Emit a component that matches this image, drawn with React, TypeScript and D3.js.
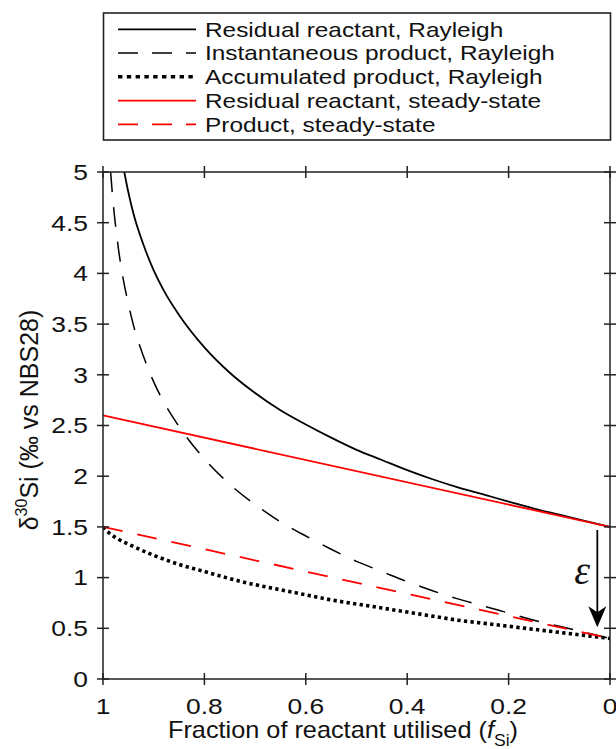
import React from "react";
import * as d3 from "d3";

// ---------- data ----------
const xTicks = [1, 0.8, 0.6, 0.4, 0.2, 0];
const xTickLabels = ["1", "0.8", "0.6", "0.4", "0.2", "0"];
const yTicks = [0, 0.5, 1, 1.5, 2, 2.5, 3, 3.5, 4, 4.5, 5];
const yTickLabels = ["0", "0.5", "1", "1.5", "2", "2.5", "3", "3.5", "4", "4.5", "5"];

// Residual reactant, Rayleigh
const fResidualRayleigh = [0.958, 0.95, 0.94, 0.92, 0.9, 0.88, 0.85, 0.8, 0.75, 0.7, 0.65, 0.6, 0.55, 0.5, 0.45, 0.4, 0.35, 0.3, 0.25, 0.2, 0.15, 0.1, 0.05, 0];
const dResidualRayleigh = [5.0, 4.8, 4.59, 4.28, 4.03, 3.83, 3.59, 3.27, 3.02, 2.82, 2.65, 2.51, 2.38, 2.26, 2.16, 2.06, 1.97, 1.89, 1.82, 1.75, 1.68, 1.62, 1.56, 1.5];

// Instantaneous product, Rayleigh
const fInstProduct = [0.985, 0.98, 0.97, 0.96, 0.95, 0.94, 0.92, 0.9, 0.88, 0.85, 0.8, 0.75, 0.7, 0.65, 0.6, 0.55, 0.5, 0.45, 0.4, 0.35, 0.3, 0.25, 0.2, 0.15, 0.1, 0.05, 0];
const dInstProduct = [5.0, 4.7, 4.26, 3.94, 3.7, 3.49, 3.18, 2.93, 2.73, 2.49, 2.17, 1.92, 1.72, 1.55, 1.41, 1.28, 1.16, 1.06, 0.96, 0.87, 0.79, 0.72, 0.65, 0.58, 0.52, 0.46, 0.4];

// Accumulated product, Rayleigh
const fAccProduct = [1, 0.99, 0.97, 0.95, 0.9, 0.85, 0.8, 0.75, 0.7, 0.65, 0.6, 0.55, 0.5, 0.45, 0.4, 0.35, 0.3, 0.25, 0.2, 0.15, 0.1, 0.05, 0];
const dAccProduct = [1.5, 1.45, 1.38, 1.33, 1.22, 1.13, 1.06, 0.99, 0.93, 0.88, 0.83, 0.78, 0.74, 0.7, 0.66, 0.62, 0.58, 0.55, 0.52, 0.49, 0.46, 0.43, 0.4];

// Steady-state
const fSteady = [1, 0];
const dSteadyResidual = [2.6, 1.5];
const dSteadyProduct = [1.5, 0.4];

const legendLabels = [
  "Residual reactant, Rayleigh",
  "Instantaneous product, Rayleigh",
  "Accumulated product, Rayleigh",
  "Residual reactant, steady-state",
  "Product, steady-state",
];

// epsilon annotation (data coordinates)
const arrowF = [0.025];
const arrowD = [1.47, 0.51];
const epsLabelF = [0.055];
const epsLabelD = [1.03];

// ---------- layout / style ----------
const W = 616;
const H = 749;
const L = 103, R = 610, T = 172, B = 679;
const FONT = "'Liberation Sans', Arial, Helvetica, sans-serif";
const AX = "#222";

const seriesStyles = [
  { color: "#000", width: 1.8, dash: "none", legendDash: "none" },
  { color: "#000", width: 1.5, dash: "20,15", legendDash: "20,14" },
  { color: "#000", width: 3.6, dash: "3.3,3.3", legendDash: "4.4,4.4" },
  { color: "#ff0000", width: 1.8, dash: "none", legendDash: "none" },
  { color: "#ff0000", width: 1.8, dash: "20,15", legendDash: "20,14" },
];

export default function App() {
  const x = d3.scaleLinear().domain([1, 0]).range([L, R]);
  const y = d3.scaleLinear().domain([0, 5]).range([B, T]);
  const line = d3
    .line<[number, number]>()
    .x((d) => x(d[0]))
    .y((d) => y(d[1]))
    .curve(d3.curveMonotoneX);
  const straight = d3
    .line<[number, number]>()
    .x((d) => x(d[0]))
    .y((d) => y(d[1]));

  const zip = (a: number[], b: number[]) => a.map((v, i) => [v, b[i]] as [number, number]);

  const series = [
    { path: line(zip(fResidualRayleigh, dResidualRayleigh)) },
    { path: line(zip(fInstProduct, dInstProduct)) },
    { path: line(zip(fAccProduct, dAccProduct)) },
    { path: straight(zip(fSteady, dSteadyResidual)) },
    { path: straight(zip(fSteady, dSteadyProduct)) },
  ];
  // draw order: black first, then red on top
  const drawOrder = [0, 1, 2, 4, 3];

  const tick = 6;
  const ax = x(arrowF[0]);
  const ay0 = y(arrowD[0]);
  const ayTip = y(arrowD[1]);

  const legendRowY = (i: number) => 29.3 + i * 23.75;

  return (
    <svg width={W} height={H} style={{ position: "absolute", left: 0, top: 0 }} fontFamily={FONT}>
      <defs>
        <clipPath id="plotClip">
          <rect x={L} y={T} width={R - L} height={B - T} />
        </clipPath>
      </defs>
      <rect x={0} y={0} width={W} height={H} fill="#fff" />

      {/* legend */}
      <rect x={103.5} y={13} width={507} height={127} fill="#fff" stroke={AX} strokeWidth={1.6} />
      {legendLabels.map((lab, i) => {
        const s = seriesStyles[i];
        const ly = legendRowY(i);
        return (
          <g key={lab}>
            <line x1={118} x2={196} y1={ly} y2={ly} stroke={s.color} strokeWidth={s.width} strokeDasharray={s.legendDash} />
            <text transform={`translate(205,${ly + 7.2}) scale(1.22,1)`} fontSize={20} fill="#111">
              {lab}
            </text>
          </g>
        );
      })}

      {/* curves */}
      <g clipPath="url(#plotClip)">
        {drawOrder.map((i) => {
          const s = seriesStyles[i];
          return (
            <path key={i} d={series[i].path || ""} fill="none" stroke={s.color} strokeWidth={s.width} strokeDasharray={s.dash} />
          );
        })}
      </g>

      {/* axes box */}
      <rect x={L} y={T} width={R - L} height={B - T} fill="none" stroke={AX} strokeWidth={1.5} />
      {xTicks.map((t) => (
        <g key={"xt" + t}>
          <line x1={x(t)} x2={x(t)} y1={B - tick} y2={B + tick} stroke={AX} strokeWidth={1.5} />
          <line x1={x(t)} x2={x(t)} y1={T - tick} y2={T + tick} stroke={AX} strokeWidth={1.5} />
        </g>
      ))}
      {yTicks.map((t) => (
        <g key={"yt" + t}>
          <line x1={L - tick} x2={L + tick} y1={y(t)} y2={y(t)} stroke={AX} strokeWidth={1.5} />
          <line x1={R - tick} x2={R + tick} y1={y(t)} y2={y(t)} stroke={AX} strokeWidth={1.5} />
        </g>
      ))}
      {xTicks.map((t, i) => (
        <text key={"xl" + t} transform={`translate(${x(t)},714) scale(1.2,1)`} textAnchor="middle" fontSize={22} fill="#111">
          {xTickLabels[i]}
        </text>
      ))}
      {yTicks.map((t, i) => (
        <text key={"yl" + t} transform={`translate(88,${y(t) + 7.8}) scale(1.2,1)`} textAnchor="end" fontSize={22} fill="#111">
          {yTickLabels[i]}
        </text>
      ))}

      {/* axis titles */}
      <text transform={`translate(168,738) scale(1.1,1)`} fontSize={23} fill="#111">
        Fraction of reactant utilised (<tspan fontStyle="italic">f</tspan>
        <tspan fontSize={16} dy={8}>Si</tspan>
        <tspan dy={-8}>)</tspan>
      </text>
      <text transform={`translate(38,420) rotate(-90)`} textAnchor="middle" fontSize={25} fill="#111">
        δ<tspan fontSize={16} dy={-11}>30</tspan>
        <tspan dy={11}>Si (‰ vs NBS28)</tspan>
      </text>

      {/* epsilon arrow */}
      <line x1={ax} x2={ax} y1={ay0} y2={ayTip - 14} stroke="#000" strokeWidth={1.8} />
      <path
        d={`M${ax},${ayTip} L${ax - 9},${ayTip - 21} L${ax},${ayTip - 15} L${ax + 9},${ayTip - 21} Z`}
        fill="#000"
      />
      <text
        x={x(epsLabelF[0])}
        y={y(epsLabelD[0]) + 9}
        textAnchor="middle"
        fontSize={40}
        fontStyle="italic"
        fontFamily="'Liberation Serif', 'DejaVu Serif', serif"
        fill="#111"
      >
        ε
      </text>
    </svg>
  );
}
